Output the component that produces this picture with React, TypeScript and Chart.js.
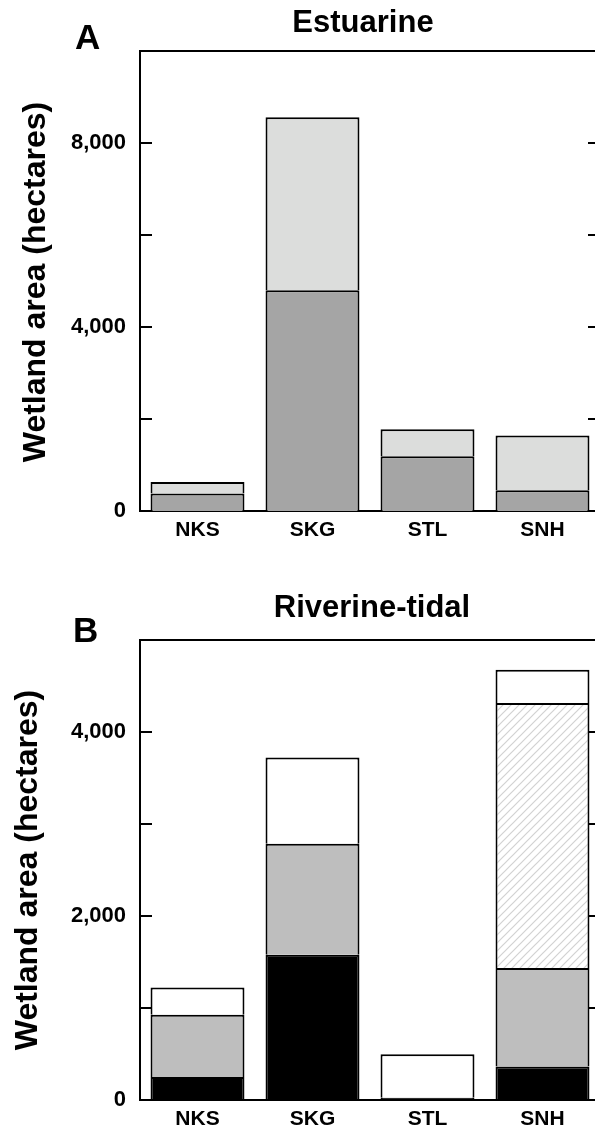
import React, { useEffect, useRef } from 'react';
import { Chart, registerables } from 'chart.js';

Chart.register(...registerables);

// ---- Data ----
const categories = ['NKS', 'SKG', 'STL', 'SNH'];

// Panel A: Estuarine (hectares)
const estuarineDark = [380, 4800, 1190, 450];
const estuarineLight = [250, 3760, 586, 1189];
const estuarineMax = 10000;
const estuarineStep = 2000;
const estuarineLabelEvery = 4000;

// Panel B: Riverine-tidal (hectares)
const riverineBlack = [250, 1580, 25, 363];
const riverineGray = [676, 1205, null, 1072];
const riverineHatch = [null, null, null, 2879];
const riverineWhite = [297, 937, 473, 363];
const riverineMax = 5000;
const riverineStep = 1000;
const riverineLabelEvery = 2000;

const FONT = '"Liberation Sans", Arial, Helvetica, sans-serif';
const Y_TITLE = 'Wetland area (hectares)';

const decorPlugin = {
  id: 'decor',
  afterDraw(chart: any, _args: any, opts: any) {
    const { ctx, chartArea } = chart;
    const { left, right, top } = chartArea;
    const y = chart.scales.y;
    ctx.save();
    ctx.strokeStyle = '#000';
    ctx.lineWidth = 2;
    ctx.beginPath();
    ctx.moveTo(left, top);
    ctx.lineTo(right, top);
    y.ticks.forEach((t: any) => {
      const py = Math.round(y.getPixelForValue(t.value));
      ctx.moveTo(left, py);
      ctx.lineTo(left + 12, py);
      ctx.moveTo(right, py);
      ctx.lineTo(right - 12, py);
    });
    ctx.stroke();

    ctx.fillStyle = '#000';
    ctx.textBaseline = 'alphabetic';
    ctx.textAlign = 'center';
    ctx.font = `bold 31px ${FONT}`;
    ctx.fillText(opts.title, opts.titleX, opts.titleY);
    ctx.textAlign = 'left';
    ctx.font = `bold 35px ${FONT}`;
    ctx.fillText(opts.letter, opts.letterX, opts.letterY);

    ctx.translate(opts.yTitleX, opts.yTitleY);
    ctx.rotate(-Math.PI / 2);
    ctx.textAlign = 'center';
    ctx.textBaseline = 'middle';
    ctx.font = `bold 32px ${FONT}`;
    ctx.fillText(Y_TITLE, 0, 0);
    ctx.restore();
  },
};

function makeHatch(): CanvasPattern | string {
  const c = document.createElement('canvas');
  const s = 8;
  c.width = s;
  c.height = s;
  const g = c.getContext('2d');
  if (!g) return '#eeeeee';
  g.fillStyle = '#ffffff';
  g.fillRect(0, 0, s, s);
  g.strokeStyle = '#d2d2d2';
  g.lineWidth = 1.2;
  g.beginPath();
  g.moveTo(0, s);
  g.lineTo(s, 0);
  g.moveTo(-1, 1);
  g.lineTo(1, -1);
  g.moveTo(s - 1, s + 1);
  g.lineTo(s + 1, s - 1);
  g.stroke();
  const p = g.createPattern(c, 'repeat');
  return p || '#eeeeee';
}

type PanelProps = {
  top: number;
  height: number;
  padTop: number;
  datasets: () => any[];
  max: number;
  step: number;
  labelEvery: number;
  decor: any;
};

const WIDTH = 610;

function Panel({ top, height, padTop, datasets, max, step, labelEvery, decor }: PanelProps) {
  const ref = useRef<HTMLCanvasElement | null>(null);
  useEffect(() => {
    if (!ref.current) return;
    const plotH = 460;
    const xAxisH = height - padTop - plotH;
    const chart = new Chart(ref.current, {
      type: 'bar',
      data: { labels: categories, datasets: datasets() },
      options: {
        responsive: false,
        animation: false,
        devicePixelRatio: 1,
        layout: { padding: { top: padTop, right: WIDTH - 600, left: 0, bottom: 0 } },
        plugins: {
          legend: { display: false },
          tooltip: { enabled: false },
          title: { display: false },
          decor,
        } as any,
        scales: {
          x: {
            stacked: true,
            grid: { display: false, drawTicks: false },
            border: { display: true, color: '#000', width: 2 },
            ticks: {
              color: '#000',
              padding: 7,
              font: { family: FONT, size: 21, weight: 'bold' },
            },
            afterFit: (s: any) => {
              s.height = xAxisH;
            },
          },
          y: {
            stacked: true,
            min: 0,
            max,
            grid: { display: false, drawTicks: false },
            border: { display: true, color: '#000', width: 2 },
            ticks: {
              stepSize: step,
              color: '#000',
              padding: 14,
              font: { family: FONT, size: 22, weight: 'bold' },
              callback: (v: any) => (Number(v) % labelEvery === 0 ? Number(v).toLocaleString('en-US') : ''),
            },
            afterFit: (s: any) => {
              s.width = 140;
            },
          },
        },
      } as any,
      plugins: [decorPlugin],
    });
    return () => chart.destroy();
  }, []);
  return (
    <div style={{ position: 'absolute', left: 0, top, width: WIDTH, height }}>
      <canvas ref={ref} width={WIDTH} height={height} style={{ width: WIDTH, height, display: 'block' }} />
    </div>
  );
}

const barBase = {
  borderColor: '#000',
  borderWidth: 2,
  barPercentage: 0.817,
  categoryPercentage: 1,
};

export default function App() {
  const datasetsA = () => [
    { ...barBase, label: 'dark', data: estuarineDark, backgroundColor: '#a5a5a5' },
    { ...barBase, label: 'light', data: estuarineLight, backgroundColor: '#dcdddc' },
  ];
  const datasetsB = () => [
    { ...barBase, label: 'black', data: riverineBlack, backgroundColor: '#000000' },
    { ...barBase, label: 'gray', data: riverineGray, backgroundColor: '#bebebe' },
    { ...barBase, label: 'hatch', data: riverineHatch, backgroundColor: makeHatch() },
    { ...barBase, label: 'white', data: riverineWhite, backgroundColor: '#ffffff' },
  ];
  return (
    <div style={{ position: 'absolute', left: 0, top: 0, width: 595, height: 1132, overflow: 'hidden', background: '#fff' }}>
      <Panel
        top={0}
        height={560}
        padTop={51}
        datasets={datasetsA}
        max={estuarineMax}
        step={estuarineStep}
        labelEvery={estuarineLabelEvery}
        decor={{ title: 'Estuarine', titleX: 363, titleY: 32, letter: 'A', letterX: 75, letterY: 49, yTitleX: 36, yTitleY: 282 }}
      />
      <Panel
        top={560}
        height={572}
        padTop={80}
        datasets={datasetsB}
        max={riverineMax}
        step={riverineStep}
        labelEvery={riverineLabelEvery}
        decor={{ title: 'Riverine-tidal', titleX: 372, titleY: 57, letter: 'B', letterX: 73, letterY: 82, yTitleX: 28, yTitleY: 310 }}
      />
    </div>
  );
}
